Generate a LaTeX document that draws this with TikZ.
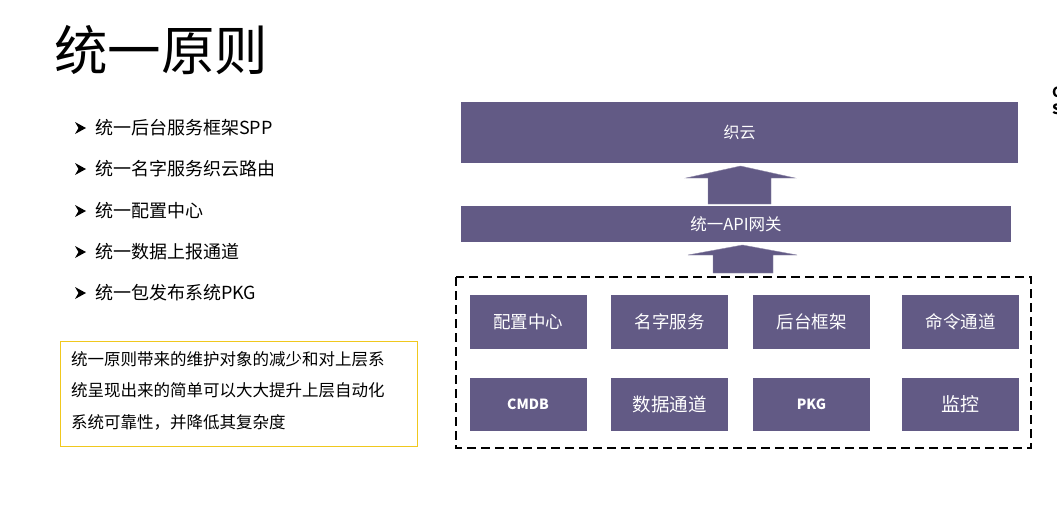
\documentclass[tikz,border=0pt]{standalone}
\usepackage{fontspec}
\setmainfont{Noto Sans CJK SC}
\usetikzlibrary{calc}
\definecolor{purp}{HTML}{625A85}
\definecolor{ylw}{HTML}{F0C81E}
\tikzset{
  pbox/.style={fill=purp, draw=none, text=white, inner sep=0pt},
  bultxt/.style={anchor=west, inner sep=0pt, font=\fontsize{18}{18}\selectfont},
  bulmark/.style={fill=black},
  blockarrow/.style={fill=purp, draw=purp!70!white, line width=0.4pt},
}
\begin{document}
\begin{tikzpicture}[x=1pt,y=-1pt]
\useasboundingbox (0,0) rectangle (1057,519);
\fill[white] (0,0) rectangle (1057,519);

% title
\node[anchor=west, inner sep=0pt, font=\fontsize{53.5}{53.5}\selectfont] (title) at (54,50) {统一原则};

% bullets
\foreach \y/\t [count=\i] in {128/统一后台服务框架SPP, 169/统一名字服务织云路由, 211/统一配置中心, 252/统一数据上报通道, 293/统一包发布系统PKG}{
  \fill[bulmark] (75,\y-6) -- (86,\y) -- (75,\y+6) -- (78.5,\y) -- cycle;
  \node[bultxt] (b\i) at (95,\y) {\t};
}

% yellow box
\node[draw=ylw, line width=1.2pt, anchor=north west, minimum width=357pt, minimum height=105pt, inner sep=0pt] (ybox) at (60,341) {};
\node[anchor=north west, inner sep=0pt, align=left, font=\fontsize{16.5}{31.5}\selectfont] (ytext) at (71,351)
  {统一原则带来的维护对象的减少和对上层系\\统呈现出来的简单可以大大提升上层自动化\\系统可靠性，并降低其复杂度};

% top boxes
\node[pbox, minimum width=557pt, minimum height=61pt, font=\fontsize{16}{16}\selectfont] (zy) at (739.5,132.5) {织云};
\node[pbox, minimum width=550pt, minimum height=36pt, font=\fontsize{16.5}{16.5}\selectfont] (api) at (736,224) {统一API网关};

% block arrows
\fill[blockarrow] (708,204) -- (708,178) -- (686,178) -- (740.5,166) -- (795,178) -- (771,178) -- (771,204) -- cycle;
\fill[blockarrow] (713,273) -- (713,255) -- (688,255) -- (742.5,245) -- (797,255) -- (773,255) -- (773,273) -- cycle;

% dashed container
\draw[line width=1.4pt, dash pattern=on 9pt off 5pt] (456,277) rectangle (1031,448);

% inner boxes
\tikzset{ibox/.style={pbox, minimum width=117pt, minimum height=53.5pt}}
\node[ibox, font=\fontsize{17.5}{17.5}\selectfont] (pz) at (528,322) {配置中心};
\node[ibox, font=\fontsize{17.5}{17.5}\selectfont] (mz) at (669.5,322) {名字服务};
\node[ibox, font=\fontsize{17.5}{17.5}\selectfont] (ht) at (811.5,322) {后台框架};
\node[ibox, font=\fontsize{17.5}{17.5}\selectfont] (ml) at (960.5,322) {命令通道};
\node[ibox, font=\fontsize{14}{14}\selectfont\bfseries] (cm) at (528,404.5) {CMDB};
\node[ibox, font=\fontsize{18.5}{18.5}\selectfont] (sj) at (669.5,404.5) {数据通道};
\node[ibox, font=\fontsize{14}{14}\selectfont\bfseries] (pk) at (811.5,404.5) {PKG};
\node[ibox, font=\fontsize{19}{19}\selectfont] (jk) at (960.5,404.5) {监控};

% cut-off text at right edge (as in the reference)
\node[anchor=west, inner sep=0pt, font=\fontsize{14}{14}\selectfont\bfseries] (cutc) at (1052,92) {C};
\node[anchor=west, inner sep=0pt, font=\fontsize{14}{14}\selectfont\bfseries] (cuts) at (1052,109) {S};
\end{tikzpicture}
\end{document}
